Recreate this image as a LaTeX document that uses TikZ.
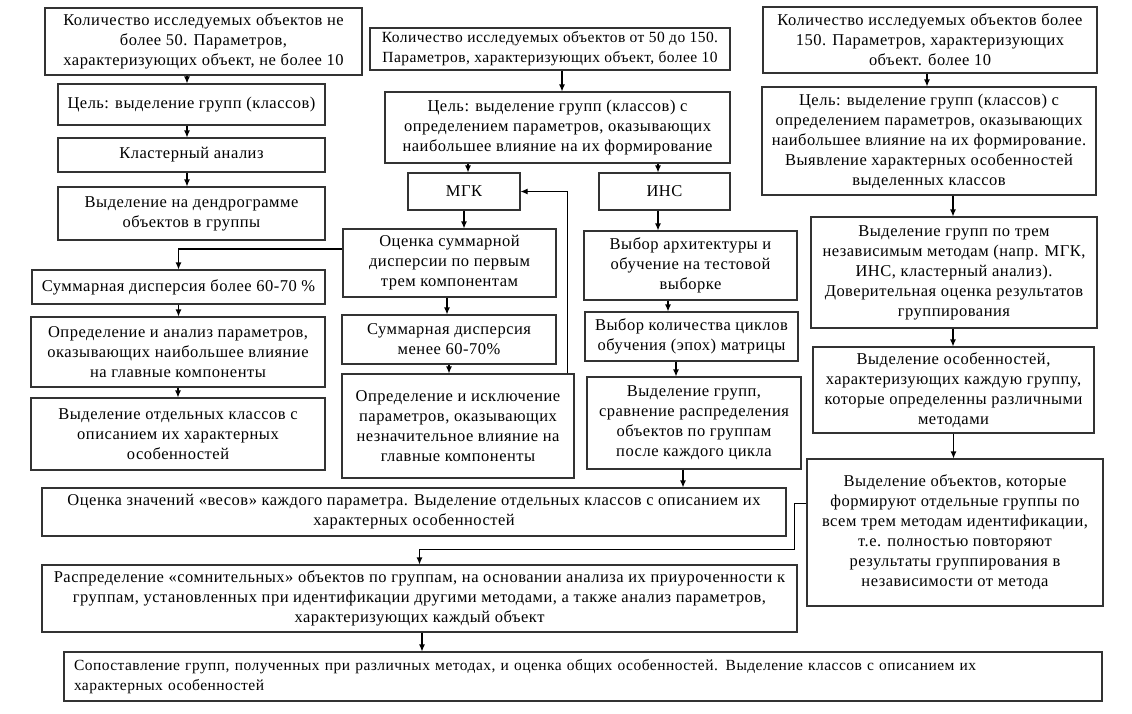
\documentclass[tikz,border=0pt]{standalone}
\usepackage{fontspec}
\setmainfont[LetterSpace=3]{Liberation Serif}
\usetikzlibrary{arrows.meta,calc}
\tikzset{
  >={Latex[length=7pt,width=6pt]},
  box/.style={
    draw=black!80, line width=1.1pt, align=center, inner sep=0pt,
    font=\fontsize{16.5}{20}\selectfont
  },
  small/.style={font=\fontsize{15.5}{20}\selectfont},
  wh/.style 2 args={minimum width=#1pt, minimum height=#2pt},
  link/.style={->, line width=1.1pt}
}

\begin{document}
\begin{tikzpicture}[x=1pt,y=-1pt]
\useasboundingbox (0,0) rectangle (1132,713);
\node[box,wh={317}{67}] (cnt1) at (203.5,41.5)
  {Количество исследуемых объектов не\\более 50. Параметров,\\характеризующих объект, не более 10};
\node[box,wh={267}{41}] (goal1) at (191.5,104.5) {Цель: выделение групп (классов)};
\node[box,wh={267}{34}] (clust) at (191.5,155) {Кластерный анализ};
\node[box,wh={267}{53}] (dendro) at (191.5,213.5) {Выделение на дендрограмме\\объектов в группы};
\node[box,small,wh={360}{42}] (cnt2) at (550,49)
  {Количество исследуемых объектов от 50 до 150.\\Параметров, характеризующих объект, более 10};
\node[box,wh={345}{71}] (goal2) at (557.5,127.5)
  {Цель: выделение групп (классов) с\\определением параметров, оказывающих\\наибольшее влияние на их формирование};
\node[box,wh={112}{37}] (mgk) at (464,191.5) {МГК};
\node[box,wh={131}{37}] (ins) at (664.5,191.5) {ИНС};
\node[box,wh={213}{68}] (disp) at (449.5,263) {Оценка суммарной\\дисперсии по первым\\трем компонентам};
\node[box,wh={214}{49}] (displow) at (449,339.5) {Суммарная дисперсия\\менее 60-70\%};
\node[box,wh={232}{104}] (excl) at (458,426)
  {Определение и исключение\\параметров, оказывающих\\незначительное влияние на\\главные компоненты};
\node[box,wh={293}{34}] (disphigh) at (178.5,287) {Суммарная дисперсия более 60-70 \%};
\node[box,wh={294}{70}] (anal) at (178,352)
  {Определение и анализ параметров,\\оказывающих наибольшее влияние\\на главные компоненты};
\node[box,wh={294}{72}] (cls) at (178,434)
  {Выделение отдельных классов с\\описанием их характерных\\особенностей};
\node[box,wh={213}{69}] (arch) at (690.5,265.5) {Выбор архитектуры и\\обучение на тестовой\\выборке};
\node[box,wh={213}{49}] (epoch) at (691.5,336.5) {Выбор количества циклов\\обучения (эпох) матрицы};
\node[box,wh={214}{92}] (cmp) at (694,423)
  {Выделение групп,\\сравнение распределения\\объектов по группам\\после каждого цикла};
\node[box,wh={334}{66}] (cnt3) at (930,40)
  {Количество исследуемых объектов более\\150. Параметров, характеризующих\\объект. более 10};
\node[box,wh={334}{108}] (goal3) at (929,141)
  {Цель: выделение групп (классов) с\\определением параметров, оказывающих\\наибольшее влияние на их формирование.\\Выявление характерных особенностей\\выделенных классов};
\node[box,wh={286}{111}] (three) at (954,272.5)
  {Выделение групп по трем\\независимым методам (напр. МГК,\\ИНС, кластерный анализ).\\Доверительная оценка результатов\\группирования};
\node[box,wh={281}{86}] (feat) at (953.5,390)
  {Выделение особенностей,\\характеризующих каждую группу,\\которые определенны различными\\методами};
\node[box,wh={296}{147}] (objs) at (955,532.5)
  {Выделение объектов, которые\\формируют отдельные группы по\\всем трем методам идентификации,\\т.е. полностью повторяют\\результаты группирования в\\независимости от метода};
\node[box,wh={744}{48}] (weights) at (414,512)
  {Оценка значений «весов» каждого параметра. Выделение отдельных классов с описанием их\\характерных особенностей};
\node[box,wh={755}{67}] (doubt) at (419.5,598.5)
  {Распределение «сомнительных» объектов по группам, на основании анализа их приуроченности к\\группам, установленных при идентификации другими методами, а также анализ параметров,\\характеризующих каждый объект};
\node[box,small,inner xsep=10pt,text width=1018pt,align=left,minimum height=49pt] (compare) at (583,676.5)
  {Сопоставление групп, полученных при различных методах, и оценка общих особенностей. Выделение классов с описанием их\\характерных особенностей};
\foreach \a/\b/\s in {%
  cnt1/goal1/-16.5,
  goal1/clust/-4.5,
  clust/dendro/-4.5,
  cnt2/goal2/12,
  goal2/mgk/-89.5,
  goal2/ins/100.5,
  mgk/disp/0,
  disp/displow/-2.5,
  displow/excl/0,
  disphigh/anal/0,
  anal/cls/0,
  ins/arch/-6.5,
  arch/epoch/-22.5,
  epoch/cmp/-15.5,
  cmp/weights/-11,
  cnt3/goal3/-3,
  goal3/three/24,
  three/feat/-1,
  feat/objs/0,
  doubt/compare/2.5%
} {
  \draw[link] ([xshift=\s pt]\a.south) -- ([xshift=\s pt]\a.south |- \b.north);
}
\draw[link] ([yshift=14pt]disp.west) -| (disphigh.north);
\draw[link] ([xshift=-7pt]excl.north east) |- (mgk.east);
\draw[link] ([yshift=29pt]objs.west) -- ++(-12,0) |- ([yshift=15pt]doubt.north) -- (doubt.north);
\end{tikzpicture}
\end{document}
